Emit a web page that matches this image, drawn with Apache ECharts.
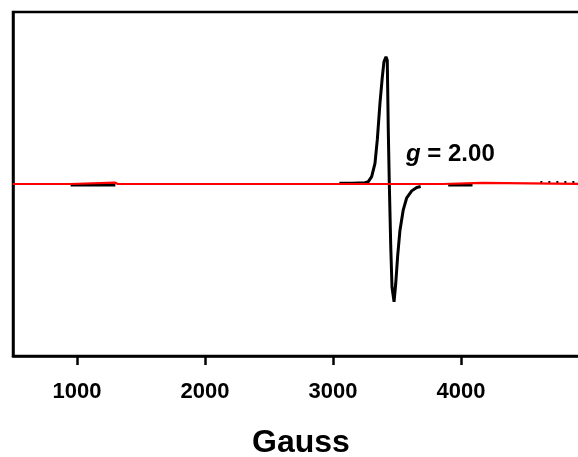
<!DOCTYPE html>
<html>
<head>
<meta charset="utf-8">
<script src="https://cdn.jsdelivr.net/npm/echarts@6/dist/echarts.min.js"></script>
<style>
  html, body { margin: 0; padding: 0; background: #fff; }
  #chart { width: 578px; height: 457px; }
</style>
</head>
<body>
<div id="chart"></div>
<script>
// Field axis (Gauss) and tick labels
var fieldTicks = [1000, 2000, 3000, 4000];

// Sample spectrum: low-field segment, the g = 2.00 derivative line, high-field segment
var sampleField = [950, 1300, null,
  3050, 3150, 3250, 3276, 3302, 3328, 3346, 3367, 3385, 3398, 3414, 3424,
  3432, 3440, 3451, 3461, 3477, 3490, 3505, 3523, 3549, 3576, 3615, 3654, 3685,
  null, 3900, 4090];
var sampleSignal = [-0.006, -0.006, null,
  0.005, 0.005, 0.008, 0.014, 0.043, 0.12, 0.256, 0.47, 0.62, 0.71, 0.74, 0.72,
  0.31, 0.0, -0.36, -0.6, -0.685, -0.58, -0.42, -0.27, -0.15, -0.08, -0.04, -0.02, -0.015,
  null, -0.006, -0.006];

// Sparse high-field points of the sample trace
var sampleTailField = [4620, 4914];
var sampleTailSignal = [0.012, 0.012];

// Reference trace: flat baseline with small low-field and high-field features
var refField = [500, 948, 950, 1295, 1300, 1320, 1322, 1324, 1360, 1362, 1364, 1400, 1402, 1404,
  3855, 3857, 4165, 4167, 5000];
var refSignal = [0, 0, 0.008, 0.008, 0, 0, 0.008, 0, 0, 0.008, 0, 0, 0.008, 0,
  0, 0.007, 0.007, 0, 0];

function pairs(xs, ys) {
  return xs.map(function (x, i) {
    return x === null ? [null, null] : [x, ys[i]];
  });
}

var chart = echarts.init(document.getElementById('chart'), null, { renderer: 'canvas' });

var font = '"Liberation Sans", Arial, sans-serif';

chart.setOption({
  animation: false,
  backgroundColor: '#fff',
  grid: {
    left: 13, top: 12, right: -11, bottom: 101,
    containLabel: false,
    outerBoundsMode: 'none',
    show: true, borderColor: '#000', borderWidth: 2.5, backgroundColor: 'transparent'
  },
  xAxis: {
    type: 'value',
    min: 500,
    max: 5000,
    name: 'Gauss',
    nameLocation: 'middle',
    nameGap: 71,
    nameTextStyle: { fontFamily: font, fontWeight: 'bold', fontSize: 32, color: '#000' },
    axisLine: { show: true, onZero: false, lineStyle: { color: '#000', width: 2.5 } },
    axisTick: { show: true, length: 9, inside: false, customValues: fieldTicks,
      lineStyle: { color: '#000', width: 2.5 } },
    axisLabel: { show: true, customValues: fieldTicks, margin: 25,
      formatter: function (v) { return String(v); },
      fontFamily: font, fontWeight: 'bold', fontSize: 22, color: '#000' },
    splitLine: { show: false },
    minorTick: { show: false }
  },
  yAxis: {
    type: 'value',
    min: -1,
    max: 1,
    axisLine: { show: true, lineStyle: { color: '#000', width: 2.5 } },
    axisTick: { show: false },
    axisLabel: { show: false },
    splitLine: { show: false }
  },
  series: [
    {
      type: 'line',
      data: pairs(sampleField, sampleSignal),
      showSymbol: false,
      connectNulls: false,
      lineStyle: { color: '#000', width: 3 },
      z: 2
    },
    {
      type: 'line',
      data: pairs(sampleTailField, sampleTailSignal),
      showSymbol: false,
      lineStyle: { color: '#000', width: 2, type: [2, 6] },
      z: 2
    },
    {
      type: 'line',
      data: pairs(refField, refSignal),
      showSymbol: false,
      lineStyle: { color: '#ff0000', width: 2.2 },
      z: 3
    }
  ],
  graphic: [
    {
      type: 'text',
      left: 406,
      top: 142,
      style: {
        text: '{i|g} = 2.00',
        font: 'bold 24px ' + font,
        fill: '#000',
        rich: {
          i: { fontStyle: 'italic', fontWeight: 'bold', fontSize: 24, fontFamily: font }
        }
      },
      z: 10
    }
  ]
});
</script>
</body>
</html>
